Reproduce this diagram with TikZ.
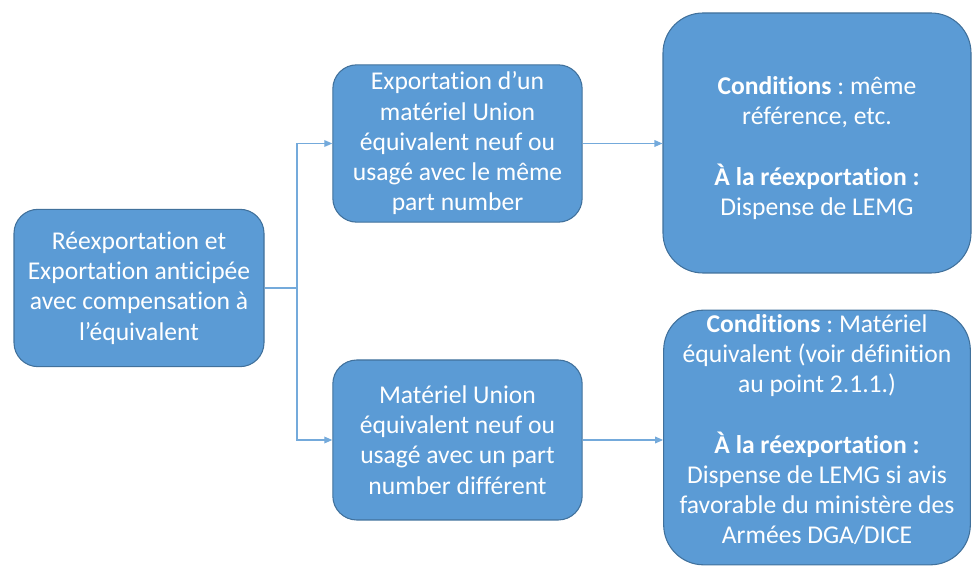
\documentclass[tikz,border=0pt]{standalone}
\usepackage{fontspec}
\setmainfont{Carlito}[Ligatures=NoCommon]
\usetikzlibrary{arrows.meta}
\frenchspacing

\definecolor{boxblue}{HTML}{5B9BD5}
\definecolor{edgeblue}{HTML}{41719C}

\tikzset{
  bluebox/.style={draw=edgeblue, line width=0.8pt, fill=boxblue, text=white,
    align=center, inner sep=0pt, font=\fontsize{19.2}{22.7}\selectfont},
  bluetext/.style={text=white, align=center, inner sep=0pt, font=\fontsize{19.2}{22.7}\selectfont},
  link/.style={draw=boxblue!85!white, line width=0.9pt},
  linkarrow/.style={link, -{Triangle[length=6pt,width=5pt]}}
}

\begin{document}
\begin{tikzpicture}[x=0.75pt, y=0.75pt]
        \useasboundingbox (0,0) rectangle (972,568);

        \node[bluebox, rounded corners=18pt, minimum width=187.5pt, minimum height=118pt] (reexp) at (139,280)
              {Réexportation et\\Exportation anticipée\\avec compensation à\\l’équivalent};

        \node[bluebox, rounded corners=18pt, minimum width=187pt, minimum height=118pt] (exportA) at (457.5,424.5)
              {Exportation d’un\\matériel Union\\équivalent neuf ou\\usagé avec le même\\part number};

        \node[bluebox, rounded corners=18pt, minimum width=187pt, minimum height=120pt] (materielB) at (457.5,128)
              {Matériel Union\\équivalent neuf ou\\usagé avec un part\\number différent};

        \node[bluebox, rounded corners=30pt, minimum width=231pt, minimum height=195pt] (condA) at (817,425) {};
        \node[bluetext] (condAtext) at ([yshift=-4pt]condA.center)
              {\textbf{Conditions} : même\\référence, etc.\\[22.7pt]\textbf{À la réexportation :}\\Dispense de LEMG};

        \node[bluebox, rounded corners=30pt, minimum width=230pt, minimum height=191pt] (condB) at (817,130.5) {};
        \node[bluetext] (condBtext) at ([yshift=6pt]condB.center)
              {\textbf{Conditions} : Matériel\\équivalent (voir définition\\au point 2.1.1.)\\[22.7pt]\textbf{À la réexportation :}\\Dispense de LEMG si avis\\favorable du ministère des\\Armées DGA/DICE};

        % branching connector
        \coordinate (fork) at (297,280);
        \draw[link] (reexp.east) -- (fork);
        \draw[linkarrow] (fork) |- (exportA.west);
        \draw[linkarrow] (fork) |- (materielB.west);

        \draw[linkarrow] (exportA.east) -- (condA.west |- exportA.east);
        \draw[linkarrow] (materielB.east) -- (condB.west |- materielB.east);
\end{tikzpicture}
\end{document}
